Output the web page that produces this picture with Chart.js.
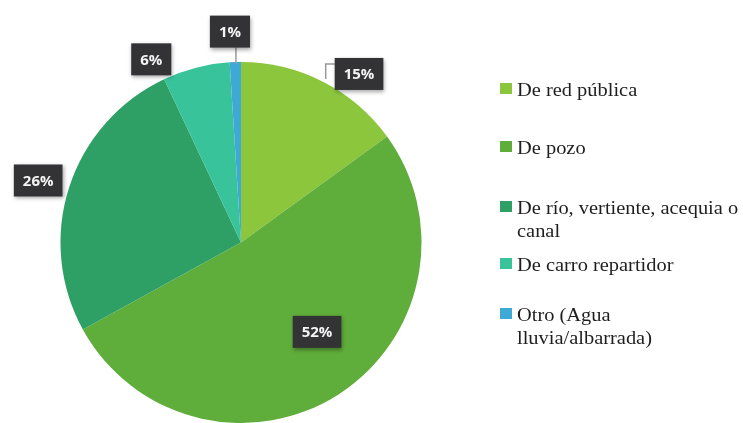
<!DOCTYPE html>
<html>
<head>
<meta charset="utf-8">
<script src="https://cdn.jsdelivr.net/npm/chart.js@4"></script>
<style>
  body{margin:0;background:#fff;}
  #wrap{position:relative;width:743px;height:423px;overflow:hidden;}
  #MyChart{position:absolute;left:0;top:0;}
  .leg{position:absolute;left:500px;font-family:"Liberation Serif","DejaVu Serif",serif;font-size:19px;line-height:23px;color:#1e1e1e;white-space:nowrap;}
  .leg .sq{position:absolute;left:0;top:5px;width:12px;height:11px;}
  .leg .tx{margin-left:17px;transform:scaleX(1.075);transform-origin:left top;}
</style>
</head>
<body>
<div id="wrap">
  <canvas id="MyChart" width="743" height="423"></canvas>
  <div id="legend"></div>
</div>
<script>
const labels = ['De red pública', 'De pozo', 'De río, vertiente, acequia o canal', 'De carro repartidor', 'Otro (Agua lluvia/albarrada)'];
const values = [15, 52, 26, 6, 1];
const colors = ['#8cc63c', '#5fad3a', '#2fa065', '#38c39b', '#3fa9d6'];

// legend text split in lines like the picture
const legendLines = [['De red pública'], ['De pozo'], ['De río, vertiente, acequia o', 'canal'], ['De carro repartidor'], ['Otro (Agua', 'lluvia/albarrada)']];
const legendTop = [78, 136, 196, 253, 303];

const Legend = document.getElementById('legend');
legendLines.forEach((lines, i) => {
    var d = document.createElement('div');
    d.className = 'leg';
    d.style.top = legendTop[i] + 'px';
    d.innerHTML = '<span class="sq" style="background:' + colors[i] + '"></span><div class="tx">' + lines.join('<br>') + '</div>';
    Legend.appendChild(d);
});

// where each label box sits: angle shift (deg) and distance factor from centre
const labelPlace = [[8, 1.14], [-8, 0.65], [-1, 1.175], [-11.7, 1.13], [-1.2, 1.17]];

const boxLabels = {
    id: 'boxLabels',
    afterDatasetsDraw(chart){
        const c = chart.ctx;
        const arcs = chart.getDatasetMeta(0).data;
        c.save();
        arcs.forEach((arc, i) => {
            const mid = (arc.startAngle + arc.endAngle) / 2 + labelPlace[i][0] * Math.PI / 180;
            const r = arc.outerRadius * labelPlace[i][1];
            const x = arc.x + Math.cos(mid) * r;
            const y = arc.y + Math.sin(mid) * r;
            const txt = values[i] + '%';
            c.font = 'bold 15px "Open Sans", "Liberation Sans", sans-serif';
            const w = c.measureText(txt).width + 18;
            const h = 32;
            // leader lines
            c.strokeStyle = '#999';
            c.lineWidth = 1.5;
            if(i == 4){
                c.beginPath();
                c.moveTo(x + 6, y + h / 2);
                c.lineTo(x + 6, arc.y - arc.outerRadius + 2);
                c.stroke();
            }
            if(i == 0){
                const lx = x - w / 2 - 9;
                c.beginPath();
                c.moveTo(x - w / 2, y - 10);
                c.lineTo(lx, y - 10);
                c.lineTo(lx, y + 5);
                c.stroke();
            }
            c.shadowColor = 'rgba(0,0,0,0.35)';
            c.shadowBlur = 4;
            c.shadowOffsetX = 1;
            c.shadowOffsetY = 2;
            c.fillStyle = '#333335';
            c.fillRect(x - w / 2, y - h / 2, w, h);
            c.shadowColor = 'transparent';
            c.fillStyle = '#f4f4f4';
            c.textAlign = 'center';
            c.textBaseline = 'middle';
            c.fillText(txt, x, y + 1);
        });
        c.restore();
    }
};

const ctx = document.getElementById('MyChart').getContext('2d');
let myChart = new Chart(ctx, {
    type: 'pie',
    data: {
        labels: labels,
        datasets: [{
            data: values,
            backgroundColor: colors,
            borderWidth: 0
        }]
    },
    options: {
        responsive: false,
        animation: false,
        layout: { padding: { left: 60, top: 62, right: 321, bottom: 0 } },
        plugins: {
            legend: { display: false },
            tooltip: { enabled: false }
        }
    },
    plugins: [boxLabels]
});
</script>
</body>
</html>
